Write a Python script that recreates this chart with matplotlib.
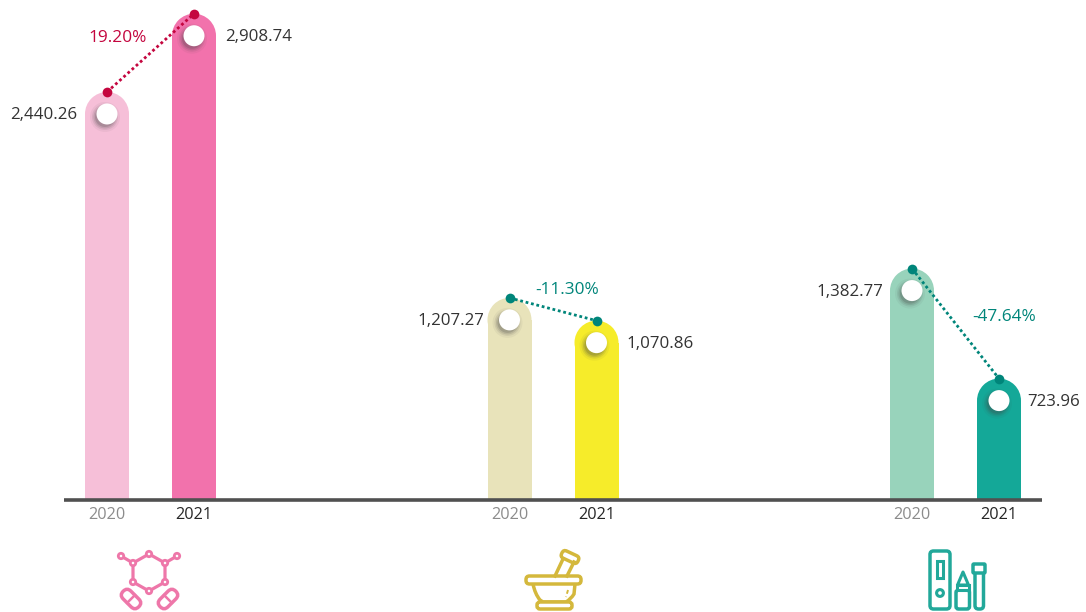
import matplotlib
matplotlib.use("Agg")
import matplotlib.pyplot as plt
from matplotlib.patches import Rectangle, Ellipse, Circle, FancyBboxPatch, PathPatch, Polygon
from matplotlib.path import Path
from matplotlib.transforms import Affine2D
import numpy as np

plt.rcParams['font.family'] = ['Open Sans', 'DejaVu Sans']

years = ["2020", "2021"]
group_centers = [150.5, 553, 955.5]
values_2020 = [2440.26, 1207.27, 1382.77]
values_2021 = [2908.74, 1070.86, 723.96]
labels_2020 = ["2,440.26", "1,207.27", "1,382.77"]
labels_2021 = ["2,908.74", "1,070.86", "723.96"]
changes = ["19.20%", "-11.30%", "-47.64%"]

colors_2020 = ["#f6bfd8", "#e8e3ba", "#98d3bb"]
colors_2021 = ["#f272ac", "#f6ec2a", "#14a898"]
line_colors = ["#c4063f", "#00857a", "#00857a"]

W, H = 1086, 612
base_px = 499.5
px_per_unit = 0.167
half_gap = 43.5
bar_w = 44

fig = plt.figure(figsize=(W / 100, H / 100), dpi=100)
ax = fig.add_axes([0, 0, 1, 1])
ax.set_xlim(0, W)
ax.set_ylim(-(H - base_px) / px_per_unit, base_px / px_per_unit)
ax.axis('off')

# overlay in pixel coords for the icons
ic = fig.add_axes([0, 0, 1, 1])
ic.set_xlim(0, W)
ic.set_ylim(H, 0)
ic.axis('off')
ic.patch.set_alpha(0)

ry = (bar_w / 2) / px_per_unit


def draw_bar(x, val, color):
    ax.add_patch(Rectangle((x - bar_w / 2, 0), bar_w, val - ry, fc=color, ec='none', zorder=2))
    ax.add_patch(Ellipse((x, val - ry), bar_w, 2 * ry, fc=color, ec='none', zorder=2))


def draw_dot(x, val):
    cy = val - ry
    # soft shadow, lower left of the white dot
    for grow, a in zip([15, 13, 11.5, 10], [0.06, 0.1, 0.14, 0.2]):
        ax.add_patch(Ellipse((x - 2, cy - 3 / px_per_unit), 2 * grow, 2 * grow / px_per_unit,
                             fc='#444444', ec='none', alpha=a, zorder=3))
    ax.add_patch(Ellipse((x, cy), 21, 21 / px_per_unit, fc='white', ec='none', zorder=4))


for i, c in enumerate(group_centers):
    x0, x1 = c - half_gap, c + half_gap
    v0, v1 = values_2020[i], values_2021[i]
    draw_bar(x0, v0, colors_2020[i])
    draw_bar(x1, v1, colors_2021[i])
    draw_dot(x0, v0)
    draw_dot(x1, v1)
    ax.plot([x0, x1], [v0, v1], color=line_colors[i], lw=2.0, ls=(0, (1, 1)), zorder=5)
    ax.plot([x0, x1], [v0, v1], 'o', color=line_colors[i], ms=7, mec='none', zorder=6)
    ax.text(x0, -15.5 / px_per_unit, years[0], ha='center', va='center', fontsize=11.7, color='#8c8c8c')
    ax.text(x1, -15.5 / px_per_unit, years[1], ha='center', va='center', fontsize=11.7, color='#262626')

ax.plot([64, 1042], [0, 0], color='#505050', lw=2.6, solid_capstyle='butt', zorder=7)

# value labels
lab_kw = dict(va='center', fontsize=12.2, color='#333333', zorder=8)
lab_dy = 1 / px_per_unit
ax.text(77, values_2020[0] - ry - lab_dy, labels_2020[0], ha='right', **lab_kw)
ax.text(225, values_2021[0] - ry - lab_dy, labels_2021[0], ha='left', **lab_kw)
ax.text(484, values_2020[1] - ry - lab_dy, labels_2020[1], ha='right', **lab_kw)
ax.text(626, values_2021[1] - ry - lab_dy, labels_2021[1], ha='left', **lab_kw)
ax.text(883, values_2020[2] - ry - lab_dy, labels_2020[2], ha='right', **lab_kw)
ax.text(1027, values_2021[2] - ry - lab_dy, labels_2021[2], ha='left', **lab_kw)

# change labels
pct_y = [(499 - 37), (499 - 289), (499 - 316)]
pct_x = [118, 567, 1004]
for t, px, py, col in zip(changes, pct_x, pct_y, line_colors):
    ax.text(px, (py - 0.5) / px_per_unit, t, ha='center', va='center', fontsize=12.4, color=col, zorder=8)


# icons
def rbox(x0, y0, x1, y1, r, col, lw=2.5, rot=None):
    p = FancyBboxPatch((x0 + r, y0 + r), x1 - x0 - 2 * r, y1 - y0 - 2 * r,
                       boxstyle="round,pad=%g" % r, fc='white', ec=col, lw=lw)
    if rot is not None:
        p.set_transform(Affine2D().rotate_deg_around(rot[1], rot[2], rot[0]) + ic.transData)
    ic.add_patch(p)
    return p


pink = "#ee77a9"
hx = [149, 165, 165, 149, 133, 133]
hy = [554, 563, 582, 591, 582, 563]
ic.add_patch(Polygon(np.c_[hx, hy], closed=True, fc='none', ec=pink, lw=2.3))
ic.plot([133, 121], [563, 556], color=pink, lw=2.3)
ic.plot([165, 177], [563, 556], color=pink, lw=2.3)
for a, b in zip(hx + [121, 177], hy + [556, 556]):
    ic.add_patch(Circle((a, b), 2.7, fc='white', ec=pink, lw=2, zorder=3))
for cx, ang in [(131, 45), (168, -45)]:
    rbox(cx - 11, 599 - 5.5, cx + 11, 599 + 5.5, 5.4, pink, 2.5, rot=(ang, cx, 599))
    d = np.array([np.cos(np.radians(ang)), np.sin(np.radians(ang))])
    n = np.array([-d[1], d[0]]) * 5.5
    ic.plot([cx - n[0], cx + n[0]], [599 - n[1], 599 + n[1]], color=pink, lw=1.8, zorder=4)

gold = "#d4b83c"
ic.plot([555, 563], [576, 559], color=gold, lw=2.5)
ic.plot([567, 574], [576, 562], color=gold, lw=2.5)
rbox(561, 553, 579, 561, 3.5, gold, 2.5, rot=(25, 570, 557))
verts = [(533, 584), (535, 594), (540, 600), (543, 602), (566, 602), (571, 599), (574, 594), (575, 584)]
codes = [Path.MOVETO, Path.CURVE3, Path.CURVE3, Path.LINETO, Path.LINETO, Path.CURVE3, Path.CURVE3, Path.LINETO]
ic.add_patch(PathPatch(Path(verts, codes), fc='white', ec=gold, lw=2.5))
rbox(526, 576, 581, 584, 3.5, gold)
rbox(537, 602, 572, 609, 3, gold)
ic.plot([568, 566], [590, 597], color=gold, lw=1.4, ls=(0, (2, 1.5)))

teal = "#22a89a"
rbox(930, 551, 950, 609, 3.5, teal)
ic.add_patch(Rectangle((937, 561), 6, 17, fc='white', ec=teal, lw=2.2))
ic.add_patch(Circle((940, 593), 3.4, fc='white', ec=teal, lw=2.2))
rbox(956, 590, 969.5, 609, 2.5, teal)
ic.add_patch(Polygon([(957.5, 585), (963, 572), (968.5, 585)], closed=True, fc='white', ec=teal, lw=2.2, joinstyle='round'))
ic.add_patch(Rectangle((957, 585), 12, 5, fc='white', ec=teal, lw=2.2))
rbox(975, 566, 983.5, 609, 3.5, teal)
rbox(973, 564, 985, 573, 1, teal)

fig.savefig("out.png", dpi=100, facecolor='white')
